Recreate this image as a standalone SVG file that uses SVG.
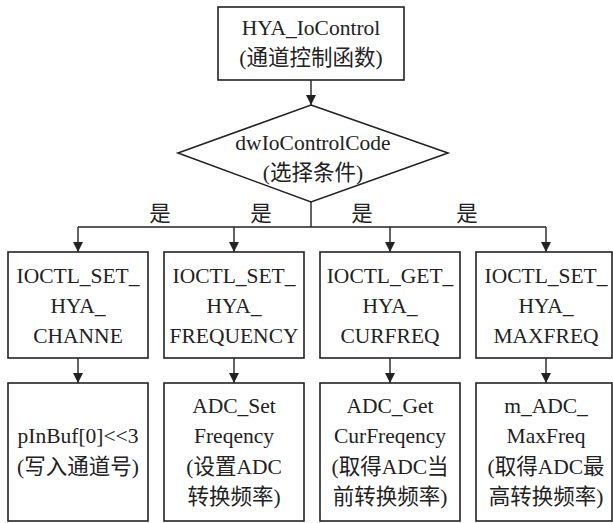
<svg xmlns="http://www.w3.org/2000/svg" width="613" height="523" viewBox="0 0 613 523">
<style>
.box{fill:#fff;stroke:#222;stroke-width:1.6}
.ln{fill:none;stroke:#222;stroke-width:1.4}
text{font-family:"Liberation Serif","Noto Sans CJK SC",serif;font-size:21.5px;fill:#222;text-anchor:middle}
</style>
<defs>
<marker id="ah" viewBox="0 0 10 12" refX="10" refY="6" markerWidth="10" markerHeight="12" markerUnits="userSpaceOnUse" orient="auto">
<path d="M0,1 L10,6 L0,11 Z" fill="#222"/>
</marker>
</defs>
<g id="connectors">
<path class="ln" d="M311,80 V105" marker-end="url(#ah)"/>
<path class="ln" d="M311,202 V227"/>
<path class="ln" d="M78,227 H546"/>
<path class="ln" d="M78,227 V252" marker-end="url(#ah)"/>
<path class="ln" d="M234,227 V252" marker-end="url(#ah)"/>
<path class="ln" d="M390,227 V252" marker-end="url(#ah)"/>
<path class="ln" d="M546,227 V252" marker-end="url(#ah)"/>
<path class="ln" d="M78,358 V383" marker-end="url(#ah)"/>
<path class="ln" d="M234,358 V383" marker-end="url(#ah)"/>
<path class="ln" d="M390,358 V383" marker-end="url(#ah)"/>
<path class="ln" d="M546,358 V383" marker-end="url(#ah)"/>
<text x="160" y="221">是</text>
<text x="261" y="221">是</text>
<text x="362" y="221">是</text>
<text x="467" y="221">是</text>
</g>
<g id="top">
<rect class="box" x="218" y="7" width="186" height="73"/>
<text x="311" y="35">HYA_IoControl</text>
<text x="311" y="65">(通道控制函数)</text>
</g>
<g id="decision">
<path class="box" d="M311,105 L448,153 L311,202 L178,153 Z"/>
<text x="313" y="150">dwIoControlCode</text>
<text x="313" y="180">(选择条件)</text>
</g>
<g id="n1">
<rect class="box" x="8" y="252" width="140" height="106"/>
<text x="78" y="283">IOCTL_SET_</text>
<text x="78" y="313">HYA_</text>
<text x="78" y="343">CHANNE</text>
</g>
<g id="n2">
<rect class="box" x="164" y="252" width="140" height="106"/>
<text x="234" y="283">IOCTL_SET_</text>
<text x="234" y="313">HYA_</text>
<text x="234" y="343">FREQUENCY</text>
</g>
<g id="n3">
<rect class="box" x="320" y="252" width="140" height="106"/>
<text x="390" y="283">IOCTL_GET_</text>
<text x="390" y="313">HYA_</text>
<text x="390" y="343">CURFREQ</text>
</g>
<g id="n4">
<rect class="box" x="476" y="252" width="136" height="106"/>
<text x="546" y="283">IOCTL_SET_</text>
<text x="546" y="313">HYA_</text>
<text x="546" y="343">MAXFREQ</text>
</g>
<g id="m1">
<rect class="box" x="8" y="383" width="140" height="138"/>
<text x="78" y="443">pInBuf[0]&lt;&lt;3</text>
<text x="78" y="474">(写入通道号)</text>
</g>
<g id="m2">
<rect class="box" x="164" y="383" width="140" height="138"/>
<text x="234" y="413">ADC_Set</text>
<text x="234" y="443">Freqency</text>
<text x="234" y="474">(设置ADC</text>
<text x="234" y="504">转换频率)</text>
</g>
<g id="m3">
<rect class="box" x="320" y="383" width="140" height="138"/>
<text x="390" y="413">ADC_Get</text>
<text x="390" y="443">CurFreqency</text>
<text x="390" y="474">(取得ADC当</text>
<text x="390" y="504">前转换频率)</text>
</g>
<g id="m4">
<rect class="box" x="476" y="383" width="136" height="138"/>
<text x="546" y="413">m_ADC_</text>
<text x="546" y="443">MaxFreq</text>
<text x="546" y="474">(取得ADC最</text>
<text x="546" y="504">高转换频率)</text>
</g>
</svg>
